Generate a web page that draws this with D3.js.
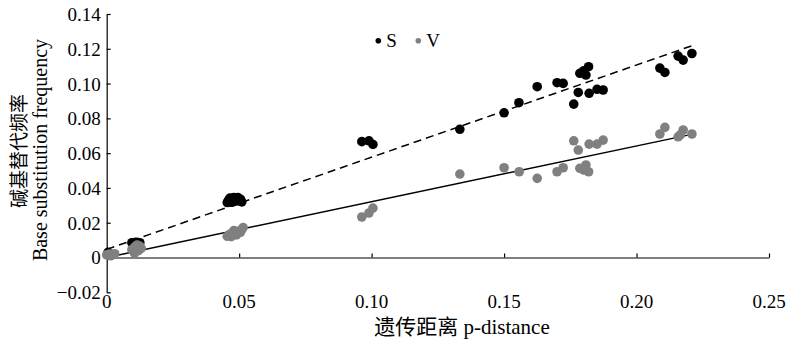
<!DOCTYPE html>
<html>
<head>
<meta charset="utf-8">
<script src="https://cdn.jsdelivr.net/npm/d3@7"></script>
<style>
  html, body { margin: 0; padding: 0; background: #fff; }
  svg text { font-family: 'Liberation Serif', 'Noto Sans CJK SC', serif; fill: #000; }
</style>
</head>
<body>
<svg id="chart" width="790" height="341"></svg>
<script>
'use strict';

// S = transitions, V = transversions; [p-distance, substitution frequency]
var sPoints = [
  [0.0005, 0.003],
  [0.0095, 0.0085], [0.011, 0.0088], [0.0125, 0.0085], [0.0115, 0.0078],
  [0.0455, 0.0316], [0.046, 0.033], [0.0465, 0.0342], [0.047, 0.0335], [0.0475, 0.0318],
  [0.048, 0.0345], [0.049, 0.0325], [0.0495, 0.0345], [0.0505, 0.0335], [0.051, 0.032],
  [0.0963, 0.0666], [0.099, 0.0671], [0.1005, 0.065],
  [0.1333, 0.0737], [0.150, 0.0832], [0.1556, 0.089],
  [0.1625, 0.0982], [0.170, 0.1005], [0.1723, 0.1001],
  [0.1763, 0.0882], [0.178, 0.0949], [0.1786, 0.1059], [0.1801, 0.1074], [0.1819, 0.1097],
  [0.1809, 0.1049], [0.1821, 0.0944], [0.1851, 0.0967], [0.1874, 0.0963],
  [0.2088, 0.1089], [0.2107, 0.1064], [0.2157, 0.1158], [0.2176, 0.1135], [0.2209, 0.1173]
];
var vPoints = [
  [0.0, 0.0015], [0.001, 0.002], [0.0015, 0.001], [0.002, 0.0018], [0.003, 0.0022],
  [0.0095, 0.0045], [0.0105, 0.006], [0.0115, 0.0072], [0.0125, 0.0065], [0.013, 0.0052],
  [0.0105, 0.0025], [0.012, 0.004],
  [0.0455, 0.0122], [0.0465, 0.0135], [0.047, 0.012], [0.048, 0.014], [0.049, 0.013],
  [0.0495, 0.015], [0.0505, 0.0145], [0.051, 0.0162], [0.0515, 0.0172], [0.048, 0.0155],
  [0.0963, 0.0233], [0.099, 0.0256], [0.1005, 0.0284],
  [0.1333, 0.048], [0.150, 0.0516], [0.1557, 0.0493], [0.1625, 0.0455],
  [0.170, 0.0493], [0.1723, 0.0516], [0.1763, 0.0671], [0.178, 0.0618], [0.1786, 0.0513],
  [0.1801, 0.0503], [0.1819, 0.0493], [0.1809, 0.0532], [0.1821, 0.0652], [0.1851, 0.0652],
  [0.1874, 0.0675], [0.2088, 0.071], [0.2107, 0.0748], [0.2157, 0.0694], [0.2165, 0.0705],
  [0.2176, 0.0733], [0.2209, 0.071]
];
// fitted lines
var sLine = [[0, 0.0047], [0.2208, 0.1217]];
var vLine = [[0, 0], [0.2208, 0.0708]];

var xTicks = [0, 0.05, 0.10, 0.15, 0.20, 0.25];
var xTickLabels = ['0', '0.05', '0.10', '0.15', '0.20', '0.25'];
var yTicks = [-0.02, 0, 0.02, 0.04, 0.06, 0.08, 0.10, 0.12, 0.14];
var yTickLabels = ['\u22120.02', '0', '0.02', '0.04', '0.06', '0.08', '0.10', '0.12', '0.14'];

var xTitle = '遗传距离 p-distance';
var yTitleCn = '碱基替代频率';
var yTitleEn = 'Base substitution frequency';
var legendNames = ['S', 'V'];

var sColor = '#000000';
var vColor = '#808080';
var pointRadius = 4.8;

var svg = d3.select('#chart');

var x = d3.scaleLinear().domain([0, 0.25]).range([106.7, 769]);
var y = d3.scaleLinear().domain([-0.02, 0.14]).range([292.3, 14]);

// y axis, ticks pointing inward
var yAxis = d3.axisLeft(y)
  .tickValues(yTicks)
  .tickFormat(function (d, i) { return yTickLabels[i]; })
  .tickSizeInner(-4)
  .tickSizeOuter(0)
  .tickPadding(6);
var gy = svg.append('g').attr('transform', 'translate(' + x(0) + ',0)').call(yAxis);
gy.selectAll('text').attr('font-size', 19).attr('dy', '0.34em');

// x axis sits on y = 0, labels below the plot
var xAxis = d3.axisBottom(x)
  .tickValues(xTicks)
  .tickFormat('')
  .tickSizeInner(-4)
  .tickSizeOuter(0);
svg.append('g').attr('transform', 'translate(0,' + y(0) + ')').call(xAxis);

svg.append('g').selectAll('text')
  .data(xTicks)
  .enter().append('text')
  .attr('x', function (d) { return x(d); })
  .attr('y', 308)
  .attr('text-anchor', 'middle')
  .attr('font-size', 19)
  .text(function (d, i) { return xTickLabels[i]; });

svg.selectAll('.domain, .tick line').attr('stroke', '#000').attr('stroke-width', 1.2);

// axis titles
svg.append('text')
  .attr('x', 462)
  .attr('y', 334)
  .attr('text-anchor', 'middle')
  .attr('font-size', 21)
  .text(xTitle);

svg.append('text')
  .attr('transform', 'translate(19,151) rotate(-90)')
  .attr('text-anchor', 'middle')
  .attr('dominant-baseline', 'central')
  .attr('font-size', 19)
  .text(yTitleCn);

svg.append('text')
  .attr('transform', 'translate(47,150) rotate(-90)')
  .attr('text-anchor', 'middle')
  .attr('font-size', 20)
  .text(yTitleEn);

// regression lines
var line = d3.line()
  .x(function (d) { return x(d[0]); })
  .y(function (d) { return y(d[1]); });

svg.append('path')
  .datum(sLine)
  .attr('d', line)
  .attr('fill', 'none')
  .attr('stroke', '#000')
  .attr('stroke-width', 1.5)
  .attr('stroke-dasharray', '8,5');

svg.append('path')
  .datum(vLine)
  .attr('d', line)
  .attr('fill', 'none')
  .attr('stroke', '#000')
  .attr('stroke-width', 1.5);

// points
svg.append('g').selectAll('circle')
  .data(sPoints)
  .enter().append('circle')
  .attr('cx', function (d) { return x(d[0]); })
  .attr('cy', function (d) { return y(d[1]); })
  .attr('r', pointRadius)
  .attr('fill', sColor);

svg.append('g').selectAll('circle')
  .data(vPoints)
  .enter().append('circle')
  .attr('cx', function (d) { return x(d[0]); })
  .attr('cy', function (d) { return y(d[1]); })
  .attr('r', pointRadius)
  .attr('fill', vColor);

// legend
var legendX = [378.3, 418.3];
var legendColors = [sColor, vColor];
var legend = svg.append('g').selectAll('g')
  .data(legendNames)
  .enter().append('g')
  .attr('transform', function (d, i) { return 'translate(' + legendX[i] + ',40.7)'; });
legend.append('circle')
  .attr('r', 2.8)
  .attr('fill', function (d, i) { return legendColors[i]; });
legend.append('text')
  .attr('x', 8)
  .attr('y', 6.5)
  .attr('font-size', 19)
  .text(function (d) { return d; });
</script>
</body>
</html>
